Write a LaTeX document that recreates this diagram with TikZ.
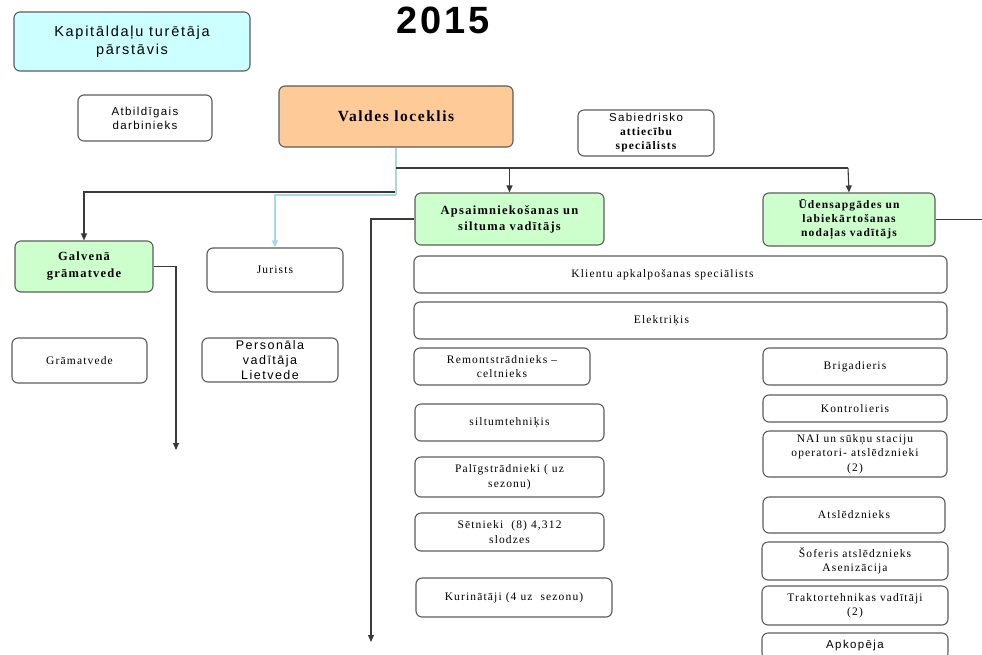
\documentclass[tikz,border=0pt]{standalone}
\usepackage{fontspec}
\setmainfont{Liberation Serif}[LetterSpace=10]
\newfontfamily\sansf{Liberation Sans}[LetterSpace=12]
\newfontfamily\titlef{Liberation Sans}[LetterSpace=8]
\usetikzlibrary{arrows.meta}
\definecolor{bordc}{HTML}{5C5C5C}
\definecolor{linec}{HTML}{3A3A3A}
\definecolor{cyanf}{HTML}{CCFFFF}
\definecolor{orangef}{HTML}{FDCA98}
\definecolor{greenf}{HTML}{CCFFCC}
\definecolor{bluel}{HTML}{A8D8E2}
\begin{document}
\begin{tikzpicture}[x=1pt,y=-1pt,
  box/.style={draw=bordc, line width=1.1pt, rounded corners=6pt, align=center, inner sep=1pt, fill=white},
  rs/.style={font=\fontsize{11.5}{14.5}\selectfont},
  rb/.style={font=\fontsize{12.5}{16}\selectfont\bfseries},
  ss/.style={font=\fontsize{11.5}{14}\sansf},
  conn/.style={draw=linec, line width=1.1pt},
  arr/.style={conn, -{Triangle[width=6pt,length=7pt]}},
  barr/.style={draw=bluel, line width=1.6pt, -{Triangle[width=6pt,length=7pt]}}]
\useasboundingbox (0,0) rectangle (982,654);

\node[font=\fontsize{38}{40}\titlef\bfseries] (title) at (443,20) {2015};

\node[box, fill=cyanf, minimum width=236pt, minimum height=59pt, font=\fontsize{14.5}{18}\sansf] (kap) at (132,41.5) {Kapitāldaļu turētāja\\pārstāvis};
\node[box, ss, minimum width=134pt, minimum height=46pt] (atb) at (145,118) {Atbildīgais\\darbinieks};
\node[box, fill=orangef, minimum width=234pt, minimum height=61pt, font=\fontsize{15.5}{18}\selectfont\bfseries] (val) at (396,116.5) {Valdes loceklis};
\node[box, minimum width=136pt, minimum height=46pt, font=\fontsize{11.5}{14}\selectfont\bfseries] (sab) at (646,133) {{\sansf\mdseries Sabiedrisko}\\attiecību\\speciālists};

\node[box, rb, fill=greenf, minimum width=189pt, minimum height=52pt] (aps) at (509.5,219) {Apsaimniekošanas un\\siltuma vadītājs};
\node[box, fill=greenf, minimum width=172pt, minimum height=53pt, font=\fontsize{11.5}{14}\selectfont\bfseries] (ude) at (849,219.5) {Ūdensapgādes un\\labiekārtošanas\\nodaļas vadītājs};
\node[box, fill=greenf, minimum width=138pt, minimum height=51pt, font=\fontsize{12.5}{17}\selectfont\bfseries] (gal) at (84,266.5) {Galvenā\\grāmatvede};
\node[box, rs, minimum width=136pt, minimum height=44pt] (jur) at (275,270) {Jurists};
\node[box, rs, minimum width=135pt, minimum height=45pt] (gra) at (79.5,360.5) {Grāmatvede};
\node[box, minimum width=136pt, minimum height=44pt, inner sep=0pt, font=\fontsize{12.5}{15}\sansf] (per) at (270,360) {Personāla\\vadītāja\\Lietvede};

\node[box, rs, minimum width=533pt, minimum height=37pt] (kli) at (680.5,274.5) {Klientu apkalpošanas speciālists\hspace*{36pt}};
\node[box, rs, minimum width=533pt, minimum height=37pt] (ele) at (680.5,320.5) {Elektriķis\hspace*{38pt}};
\node[box, rs, minimum width=176pt, minimum height=37pt, inner sep=0pt] (rem) at (502,366.5) {Remontstrādnieks –\\celtnieks};
\node[box, rs, minimum width=189pt, minimum height=37pt] (sil) at (509.5,422.5) {siltumtehniķis};
\node[box, rs, minimum width=189pt, minimum height=40pt] (pal) at (509.5,477) {Palīgstrādnieki ( uz\\sezonu)};
\node[box, rs, minimum width=189pt, minimum height=38pt] (set) at (509.5,532) {Sētnieki~ (8) 4,312\\slodzes};
\node[box, rs, minimum width=196pt, minimum height=39pt] (kur) at (514,597.5) {Kurinātāji (4 uz~ sezonu)};

\node[box, rs, minimum width=184pt, minimum height=37pt] (bri) at (855,366.5) {Brigadieris};
\node[box, rs, minimum width=184pt, minimum height=27pt] (kon) at (855,408.5) {Kontrolieris};
\node[box, rs, minimum width=184pt, minimum height=46pt, inner sep=0pt] (nai) at (855,454) {NAI un sūkņu staciju\\operatori- atslēdznieki\\(2)};
\node[box, rs, minimum width=182pt, minimum height=36pt] (ats) at (854,515) {Atslēdznieks};
\node[box, rs, minimum width=186pt, minimum height=38pt, inner sep=0pt] (sof) at (855,561) {Šoferis atslēdznieks\\Asenizācija};
\node[box, rs, minimum width=186pt, minimum height=39pt, inner sep=0pt] (tra) at (855,605.5) {Traktortehnikas vadītāji\\(2)};
\node[box, ss, minimum width=186pt, minimum height=26pt] (apk) at (855,646) {Apkopēja};

% connectors
\coordinate (vb) at (396,195);
\coordinate (vk) at (396,192);
\coordinate (vr) at (396,168);
\coordinate (ar) at (848,168);
\coordinate (aend) at (371,642);
\coordinate (gend) at (176,450);
\coordinate (uend) at (982,219.5);

\draw[arr] (vk) -| (gal.north);
\draw[draw=bluel, line width=1.6pt] (val.south) -- (vb);
\draw[barr] (vb) -| (jur.north);
\draw[conn] (vr) -- (ar);
\draw[arr] (vr -| aps.north) -- (aps.north);
\draw[arr] (ar) -- (ude.north);
\draw[arr] (aps.west) -| (aend);
\draw[arr] (gal.east) -| (gend);
\draw[conn] (ude.east) -- (uend);
\end{tikzpicture}
\end{document}
